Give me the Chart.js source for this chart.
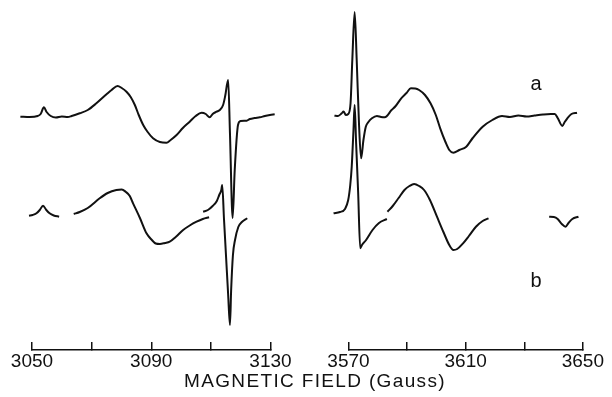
<!DOCTYPE html>
<html>
<head>
<meta charset="utf-8">
<script src="https://cdn.jsdelivr.net/npm/chart.js"></script>
<style>
  body { margin: 0; background: #fff; }
  #wrap { position: relative; width: 612px; height: 397px; }
  canvas { position: absolute; left: 0; top: 0; }
  #titre {
    position: absolute; left: 9px; top: 371px; width: 612px;
    text-align: center; font: 19px 'Liberation Sans'; line-height: 19px;
    letter-spacing: 1.35px; color: #111;
  }
</style>
</head>
<body>
<div id="wrap">
  <canvas id="gauche" width="612" height="397"></canvas>
  <canvas id="droite" width="612" height="397"></canvas>
  <div id="titre">MAGNETIC FIELD (Gauss)</div>
</div>
<script>
// champ (Gauss) et intensite (unites arbitraires)

// spectre a, partie basse
var fieldLeftA = [3046.1, 3049.2, 3051.9, 3052.9, 3054.0, 3054.9, 3056.3, 3058.0, 3060.0, 3062.0, 3063.3,
  3066.0, 3068.7, 3071.6, 3075.0, 3076.7, 3078.7, 3080.1, 3081.7, 3083.1, 3084.5, 3085.8, 3087.3, 3088.8,
  3090.6, 3092.9, 3095.1, 3096.5, 3098.5, 3100.6, 3102.9, 3104.9, 3106.9, 3108.3, 3109.6, 3110.6, 3111.9,
  3113.0, 3114.1, 3114.8, 3115.8, 3116.4, 3117.3, 3118.0, 3119.1, 3120.0, 3122.0, 3123.1, 3124.7, 3126.4,
  3128.1, 3129.8, 3131.4];
var valLeftA = [0.3, 0, 1, 3, 9.7, 5, 1, -0.5, 0.5, 0, 1,
  3.7, 7, 13.7, 22.7, 27, 31, 29, 25.3, 20, 12, 2, -8, -15,
  -21.3, -25, -25.7, -23, -18, -11, -4.7, 1, 4.3, 3, -0.3, 3, 5.3,
  7, 12, 21, 37, -16, -101, -53, -8, -4, -3.7, -2, -1, -0.3,
  1, 2, 2.7];

// spectre b (simule), partie basse, null = coupure
var fieldLeftB = [3049.0, 3050.2, 3051.5, 3052.6, 3053.7, 3054.8, 3055.9, 3057.3, 3059.1, 3061.5,
  3064.0, 3066.0, 3068.7, 3072.7, 3075.4, 3078.3, 3080.1, 3081.4, 3082.8, 3083.9, 3086.2, 3088.4, 3090.2,
  3091.5, 3092.9, 3094.6, 3096.2, 3098.2, 3100.7, 3102.9, 3105.2, 3107.3, 3109.4, 3109.4,
  3107.4, 3109.0, 3110.6, 3112.0, 3112.8, 3113.5, 3113.8, 3114.4, 3115.1, 3115.8, 3116.4, 3116.8, 3117.4,
  3118.1, 3119.2, 3120.4, 3122.2];
var valLeftB = [-0.7, 0, 1.7, 5, 9.3, 5, 1.7, -0.5, -1.7, null,
  1, 3, 7, 16.7, 22, 25, 25.5, 23.3, 19, 11.7, -3, -18.3, -25,
  -28.5, -29, -28, -26.7, -22, -15, -10.5, -6.7, -4, -2.3, null,
  3.3, 5, 9, 14, 20, 25, 30, -4, -42, -80, -110, -75, -40,
  -25, -12, -7, -3.3];

// spectre a, partie haute
var fieldRightA = [3565.2, 3566.4, 3567.7, 3568.3, 3569.1, 3569.9, 3570.7, 3571.3, 3572.1, 3572.8, 3573.6,
  3574.3, 3575.1, 3575.9, 3576.8, 3578.0, 3579.7, 3581.1, 3582.4, 3584.7, 3586.1, 3588.0, 3589.8, 3591.3,
  3592.8, 3594.1, 3596.1, 3598.0, 3599.8, 3601.3, 3603.1, 3604.4, 3605.8, 3607.8, 3610.2, 3612.4, 3615.8,
  3619.1, 3622.4, 3625.1, 3628.0, 3630.8, 3633.5, 3636.4, 3639.1, 3640.4, 3641.4, 3643.0, 3643.8, 3644.7,
  3646.1, 3648.0];
var valRightA = [1.3, 1, 3.7, 5.5, 2, 3, 13.7, 57, 105, 57, -8,
  -41.3, -23, -9.7, -5, -1.3, 1, 0, -0.3, 7, 11, 18.7, 24, 28.7,
  28.5, 27, 22, 13.7, 2, -11.3, -25, -33, -35.7, -33, -29.7, -21, -9.7,
  -3, 1, 0, 1.5, 0.5, 1.5, 2.5, 3, 3, -1, -9, -5, -1.3,
  3, 4.3];

// spectre b, partie haute
var fieldRightB = [3564.9, 3567.1, 3568.8, 3569.9, 3570.6, 3571.1, 3571.7, 3572.1, 3572.6, 3573.3, 3574.0,
  3574.6, 3576.0, 3578.2, 3580.4, 3583.1, 3583.2,
  3583.3, 3585.1, 3587.1, 3589.1, 3590.8, 3592.4, 3594.1, 3595.8, 3597.8, 3600.2, 3602.4, 3604.4, 3605.8,
  3607.1, 3609.1, 3611.1, 3613.5, 3615.8, 3617.8, 3628.0,
  3638.5, 3640.1, 3641.4, 3642.8, 3644.1, 3645.1, 3646.4, 3648.5];
var valRightB = [1.7, 3, 6, 15, 30, 48.3, 85, 110, 72, 22, -33.3,
  -30, -25, -15, -8, -4, null,
  3.3, 9, 17, 25, 29, 31, 29, 25, 15, -1.7, -17, -30, -35,
  -34, -28.3, -21, -11.7, -6, -3.3, null,
  -1.7, -2, -4, -9, -11.7, -8, -4, -1.7];

var leftTicks = [3050, 3070, 3090, 3110, 3130];
var rightTicks = [3570, 3590, 3610, 3630, 3650];
var shownLabels = [3050, 3090, 3130, 3570, 3610, 3650];

var offsetA = 98; // decalage vertical du spectre a

function serie(fields, vals, offset) {
  return fields.map(function (f, i) {
    return { x: f, y: vals[i] === null ? null : vals[i] + offset };
  });
}

function dataset(points) {
  return {
    data: points,
    borderColor: '#111',
    borderWidth: 2,
    pointRadius: 0,
    fill: false,
    clip: false,
    spanGaps: false,
    cubicInterpolationMode: 'monotone'
  };
}

// lettres a et b a droite
const etiquettes = {
  id: 'etiquettes',
  afterDatasetsDraw(chart) {
    const ctx = chart.ctx;
    const x = chart.scales.x, y = chart.scales.y;
    ctx.save();
    ctx.fillStyle = '#111';
    ctx.font = '20px "Liberation Sans"';
    ctx.textAlign = 'center';
    ctx.textBaseline = 'middle';
    ctx.fillText('a', x.getPixelForValue(3634), y.getPixelForValue(131));
    ctx.fillText('b', x.getPixelForValue(3634), y.getPixelForValue(-66));
    ctx.restore();
  }
};

function makeChart(id, ticks, padLeft, padRight, sets, plugins) {
  var lo = ticks[0], hi = ticks[ticks.length - 1];
  return new Chart(document.getElementById(id), {
    type: 'line',
    data: { datasets: sets },
    plugins: plugins,
    options: {
      responsive: false,
      animation: false,
      layout: { padding: { left: padLeft, right: padRight, top: 0, bottom: 0 } },
      plugins: { legend: { display: false }, tooltip: { enabled: false } },
      scales: {
        x: {
          type: 'linear',
          // bornes posees ici pour que les traits qui depassent l'axe restent dessines
          afterDataLimits: function (s) { s.min = lo; s.max = hi; },
          afterBuildTicks: function (s) {
            s.ticks = ticks.map(function (v) { return { value: v }; });
            s.min = lo; s.max = hi;
          },
          afterFit: function (s) { s.height = 47; },
          border: { color: '#111', width: 1.5 },
          grid: { drawOnChartArea: false, tickLength: -8, color: '#111', lineWidth: 1.5 },
          ticks: {
            autoSkip: false,
            maxRotation: 0,
            padding: 8,
            color: '#111',
            font: { family: 'Liberation Sans', size: 19 },
            callback: function (v) { return shownLabels.indexOf(v) >= 0 ? String(v) : ''; }
          }
        },
        y: { display: false, min: -135, max: 215 }
      }
    }
  });
}

makeChart('gauche', leftTicks, 32, 341.5, [
  dataset(serie(fieldLeftA, valLeftA, offsetA)),
  dataset(serie(fieldLeftB, valLeftB, 0))
], []);

makeChart('droite', rightTicks, 348.5, 23, [
  dataset(serie(fieldRightA, valRightA, offsetA)),
  dataset(serie(fieldRightB, valRightB, 0))
], [etiquettes]);
</script>
</body>
</html>
